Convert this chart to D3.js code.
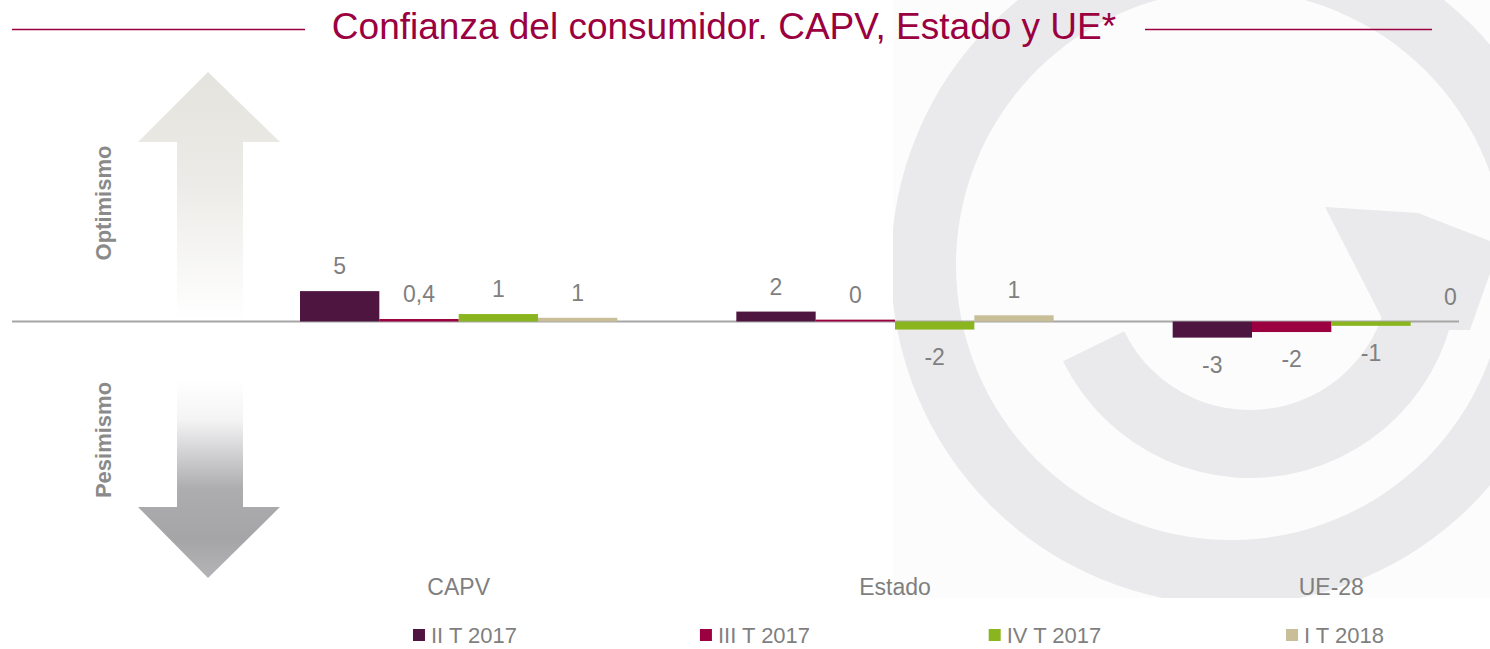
<!DOCTYPE html>
<html lang="es">
<head>
    <meta charset="UTF-8">
    <title>Confianza del consumidor</title>
    <script src="https://cdn.jsdelivr.net/npm/d3@7/dist/d3.min.js"></script>
    <style>
        body { margin: 0; background: #fff; }
        text { font-family: "Liberation Sans", Arial, sans-serif; }
    </style>
</head>
<body>
    <script>
        // datos
        const categories = ['CAPV', 'Estado', 'UE-28'];
        const series = ['II T 2017', 'III T 2017', 'IV T 2017', 'I T 2018'];
        const colors = ['#4e1541', '#9b0040', '#8ab51e', '#c8bf99'];
        // valor de cada barra (por serie, en orden de categorias)
        const valuesIIT2017 = [4.9, 1.6, -2.6];
        const valuesIIIT2017 = [0.4, 0.3, -1.7];
        const valuesIVT2017 = [1.2, -1.3, -0.7];
        const valuesIT2018 = [0.6, 1.0, 0];
        // etiquetas tal como aparecen
        const labelsIIT2017 = ['5', '2', '-3'];
        const labelsIIIT2017 = ['0,4', '0', '-2'];
        const labelsIVT2017 = ['1', '-2', '-1'];
        const labelsIT2018 = ['1', '1', '0'];

        const values = [valuesIIT2017, valuesIIIT2017, valuesIVT2017, valuesIT2018];
        const labels = [labelsIIT2017, labelsIIIT2017, labelsIVT2017, labelsIT2018];

        const width = 1490,
            height = 649,
            grey = '#7f7f7f',
            wine = '#9b0040';

        const rows = [];
        series.forEach(function(s, si){
            categories.forEach(function(c, ci){
                rows.push({serie: s, cat: c, value: values[si][ci], label: labels[si][ci], color: colors[si]});
            });
        });

        const svg = d3.select('body').append('svg')
                        .attr('width', width)
                        .attr('height', height);
        const defs = svg.append('defs');

        // marca de agua a la derecha
        defs.append('clipPath').attr('id', 'wm')
            .append('rect').attr('x', 893).attr('y', 0).attr('width', width - 893).attr('height', 598);
        const wm = svg.append('g').attr('clip-path', 'url(#wm)');
        wm.append('rect').attr('x', 893).attr('y', 0).attr('width', width - 893).attr('height', 598).attr('fill', '#fcfcfc');
        wm.append('path')
            .attr('transform', 'translate(1231,265)')
            .attr('fill', '#eaeaec')
            .attr('d', d3.arc()({innerRadius: 275, outerRadius: 340, startAngle: 0, endAngle: 2 * Math.PI}));
        wm.append('path')
            .attr('transform', 'translate(1250,270)')
            .attr('fill', '#eaeaec')
            .attr('d', d3.arc()({innerRadius: 140, outerRadius: 208, startAngle: 85 * Math.PI / 180, endAngle: 244 * Math.PI / 180}));
        wm.append('path')
            .attr('fill', '#eaeaec')
            .attr('d', d3.line()([[1325, 207], [1418, 213], [1500, 245], [1470, 330], [1388, 330]]));

        // flechas optimismo / pesimismo
        const gUp = defs.append('linearGradient').attr('id', 'gUp').attr('x1', 0).attr('y1', 0).attr('x2', 0).attr('y2', 1);
        gUp.append('stop').attr('offset', '0%').attr('stop-color', '#e4e3dd');
        gUp.append('stop').attr('offset', '45%').attr('stop-color', '#ecebe7');
        gUp.append('stop').attr('offset', '100%').attr('stop-color', '#ffffff');
        const gDown = defs.append('linearGradient').attr('id', 'gDown').attr('x1', 0).attr('y1', 0).attr('x2', 0).attr('y2', 1);
        gDown.append('stop').attr('offset', '0%').attr('stop-color', '#ffffff');
        gDown.append('stop').attr('offset', '20%').attr('stop-color', '#f4f4f5');
        gDown.append('stop').attr('offset', '55%').attr('stop-color', '#adacaf');
        gDown.append('stop').attr('offset', '80%').attr('stop-color', '#a5a4a7');
        gDown.append('stop').attr('offset', '100%').attr('stop-color', '#b4b3b6');

        svg.append('path').attr('fill', 'url(#gUp)')
            .attr('d', d3.line()([[208, 72], [280, 142], [243, 142], [243, 320], [177, 320], [177, 142], [138, 142]]) + 'Z');
        svg.append('path').attr('fill', 'url(#gDown)')
            .attr('d', d3.line()([[177, 380], [243, 380], [243, 507], [280, 507], [208, 578], [138, 507], [177, 507]]) + 'Z');

        svg.append('text').attr('transform', 'translate(111,203) rotate(-90)')
            .attr('text-anchor', 'middle').attr('font-size', '22px').attr('font-weight', 'bold')
            .attr('fill', '#8a8a8a').text('Optimismo');
        svg.append('text').attr('transform', 'translate(111,440) rotate(-90)')
            .attr('text-anchor', 'middle').attr('font-size', '22px').attr('font-weight', 'bold')
            .attr('fill', '#8a8a8a').text('Pesimismo');

        // titulo
        svg.append('text').attr('x', 724).attr('y', 39)
            .attr('text-anchor', 'middle').attr('font-size', '37px')
            .attr('fill', wine).text('Confianza del consumidor. CAPV, Estado y UE*');
        svg.append('line').attr('x1', 12).attr('x2', 305).attr('y1', 29.5).attr('y2', 29.5)
            .attr('stroke', wine).attr('stroke-width', 1.5);
        svg.append('line').attr('x1', 1145).attr('x2', 1432).attr('y1', 29.5).attr('y2', 29.5)
            .attr('stroke', wine).attr('stroke-width', 1.5);

        // escalas
        const x0 = d3.scaleBand().domain(categories).range([240.5, 1549.5]).padding(0);
        const x1 = d3.scaleBand().domain(series).range([0, x0.bandwidth()]).paddingInner(0).paddingOuter(0.75);
        const y = d3.scaleLinear().domain([-5, 5]).range([352.5, 290.5]);

        // linea del cero
        svg.append('line').attr('x1', 12).attr('x2', 1459).attr('y1', y(0)).attr('y2', y(0))
            .attr('stroke', '#a6a6a6').attr('stroke-width', 2);

        svg.selectAll('.bar').data(rows).enter().append('rect').attr('class', 'bar')
            .attr('x', function(d){ return x0(d.cat) + x1(d.serie) })
            .attr('width', x1.bandwidth())
            .attr('y', function(d){ return y(Math.max(0, d.value)) })
            .attr('height', function(d){ return Math.abs(y(d.value) - y(0)) })
            .attr('fill', function(d){ return d.color });

        svg.selectAll('.val').data(rows).enter().append('text').attr('class', 'val')
            .attr('x', function(d){ return x0(d.cat) + x1(d.serie) + x1.bandwidth() / 2 })
            .attr('y', function(d){ return d.value < 0 ? y(d.value) + 35 : y(d.value) - 17 })
            .attr('text-anchor', 'middle')
            .attr('font-size', '23px')
            .attr('fill', grey)
            .text(function(d){ return d.label });

        // categorias
        svg.selectAll('.cat').data(categories).enter().append('text').attr('class', 'cat')
            .attr('x', function(d){ return x0(d) + x0.bandwidth() / 2 })
            .attr('y', 595)
            .attr('text-anchor', 'middle')
            .attr('font-size', '23px')
            .attr('fill', grey)
            .text(function(d){ return d });

        // leyenda
        const lx = d3.scalePoint().domain(series).range([465, 1335]);
        series.forEach(function(s, i){
            const g = svg.append('g');
            const t = g.append('text').attr('y', 643).attr('font-size', '22px').attr('fill', grey).text(s);
            const tw = t.node().getComputedTextLength();
            const total = 12 + 6 + tw;
            const left = lx(s) - total / 2;
            g.append('rect').attr('x', left).attr('y', 629).attr('width', 12).attr('height', 12).attr('fill', colors[i]);
            t.attr('x', left + 18);
        });
    </script>
</body>
</html>
